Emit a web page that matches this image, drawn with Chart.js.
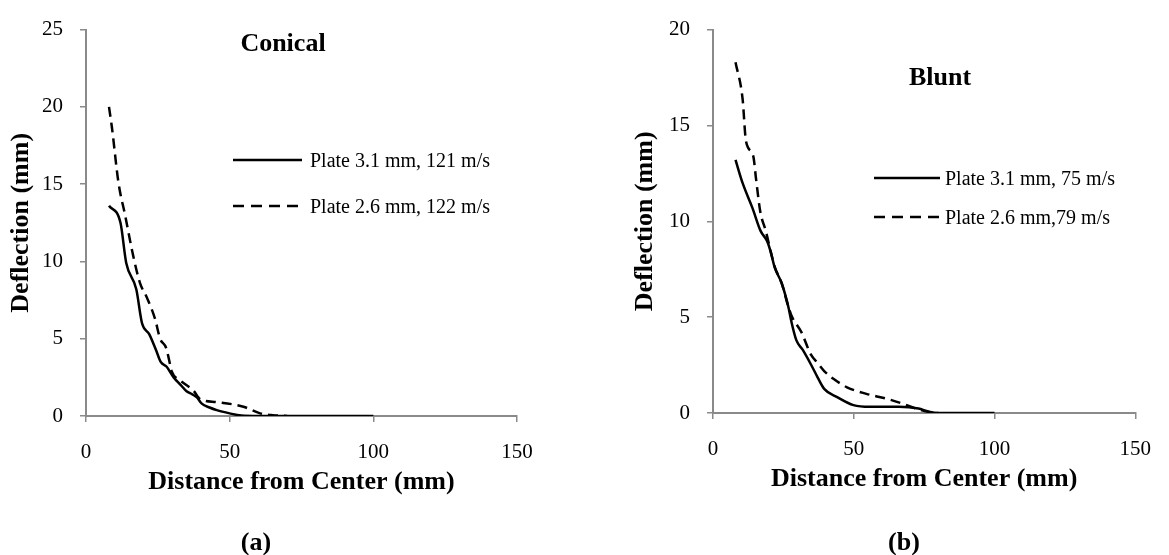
<!DOCTYPE html>
<html>
<head>
<meta charset="utf-8">
<script src="https://cdn.jsdelivr.net/npm/chart.js@4.4.1/dist/chart.umd.min.js"></script>
<style>
  body { margin: 0; background: #fff; }
  #page { position: relative; width: 1169px; height: 555px; overflow: hidden; font-family: 'Liberation Serif', 'Times New Roman', serif; color: #000; }
  canvas { position: absolute; top: 0; }
  .tag { position: absolute; font-weight: bold; font-size: 26px; transform: translate(-50%, -50%); white-space: nowrap; }
  .leg { position: absolute; height: 24px; display: flex; align-items: center; font-size: 20px; white-space: nowrap; transform: translateY(-50%); }
</style>
</head>
<body>
<div id="page">
  <canvas id="conicalChart" width="590" height="555" style="left:0"></canvas>
  <canvas id="bluntChart" width="579" height="555" style="left:590px"></canvas>
  <div class="tag" style="left:283px;top:43px">Conical</div>
  <div class="tag" style="left:940px;top:77px">Blunt</div>
  <div class="tag" style="left:256px;top:542px">(a)</div>
  <div class="tag" style="left:904px;top:542px">(b)</div>
</div>
<script>
// Datos (a) Conical
const conicalX31 = [8, 12, 14, 17.5, 19.5, 22, 24.5, 26, 28, 30.5, 33, 35, 37, 38.6, 40.3, 43, 45.5, 50, 54, 60, 70, 80, 90, 100];
const conicalY31 = [13.6, 12.5, 9.9, 8.2, 6.0, 5.3, 4.2, 3.5, 3.2, 2.5, 2.0, 1.6, 1.4, 1.2, 0.8, 0.55, 0.38, 0.17, 0.03, 0, 0, 0, 0, 0];
const conicalX26 = [8, 9, 11.3, 13.6, 16.5, 18.8, 21.1, 24, 25.8, 27.9, 29.3, 29.8, 32.8, 37.4, 39.7, 45.5, 54.8, 60.6, 65, 70];
const conicalY26 = [20, 18.7, 15.1, 13.0, 10.3, 8.6, 7.7, 6.3, 5.0, 4.4, 3.3, 2.9, 2.3, 1.64, 1.1, 0.9, 0.6, 0.17, 0.05, 0];

// Datos del gráfico (b) Blunt
const bluntX31 = [8, 10.5, 14, 16.9, 19.2, 20.4, 21.9, 24.4, 26.7, 27.9, 29.6, 31.9, 34.8, 37.2, 39.5, 44.1, 49.9, 55.7, 66, 73, 76.5, 80, 90, 100];
const bluntY31 = [13.2, 12.0, 10.7, 9.5, 8.97, 8.46, 7.6, 6.77, 5.58, 4.73, 3.8, 3.29, 2.53, 1.85, 1.26, 0.83, 0.41, 0.32, 0.32, 0.23, 0.08, 0, 0, 0];
const bluntX26 = [8, 10.5, 11.7, 14.3, 15.3, 16.8, 18.75, 20.7, 22, 24.4, 26.7, 27.9, 31.4, 34.8, 37.2, 39.5, 42.9, 47.6, 54.5, 61.5, 67.3, 73, 77.5, 80];
const bluntY26 = [18.3, 16.4, 14.2, 13.4, 12.2, 10.5, 9.5, 8.3, 7.6, 6.77, 5.58, 5.07, 4.22, 3.04, 2.6, 2.19, 1.77, 1.34, 1.0, 0.75, 0.49, 0.19, 0.03, 0];

// Ticks y etiquetas
const xTicks = [0, 50, 100, 150];
const conicalYTicks = [0, 5, 10, 15, 20, 25];
const bluntYTicks = [0, 5, 10, 15, 20];
const conicalLabels = ['Plate 3.1 mm, 121 m/s', 'Plate 2.6 mm, 122 m/s'];
const bluntLabels = ['Plate 3.1 mm, 75 m/s', 'Plate 2.6 mm,79 m/s'];

const serif = "'Liberation Serif', 'Times New Roman', serif";
const axisGrey = '#8a8a8a';
const dash = [10, 6];

function toPoints(xs, ys) {
    return xs.map((x, i) => ({ x: x, y: ys[i] }));
}

function buildDatasets(labels, x31, y31, x26, y26) {
    const base = { borderColor: '#000', borderWidth: 2.5, pointRadius: 0, cubicInterpolationMode: 'monotone', fill: false };
    return [
        Object.assign({ label: labels[0], data: toPoints(x31, y31) }, base),
        Object.assign({ label: labels[1], data: toPoints(x26, y26), borderDash: dash }, base)
    ];
}

// Crea un gráfico con el área de dibujo fijada en píxeles
function createChart(canvasId, datasets, yTicks, pad) {
    const ctx = document.getElementById(canvasId).getContext('2d');
    return new Chart(ctx, {
        type: 'line',
        data: { datasets: datasets },
        options: {
            responsive: false,
            animation: false,
            layout: { padding: { left: pad.left, right: pad.right, top: 20, bottom: pad.bottom } },
            plugins: { legend: { display: false }, tooltip: { enabled: false } },
            scales: {
                x: {
                    type: 'linear',
                    min: xTicks[0],
                    max: xTicks[xTicks.length - 1],
                    afterBuildTicks: s => { s.ticks = xTicks.map(v => ({ value: v })); },
                    afterFit: s => { s.height = 90; },
                    grid: { drawOnChartArea: false, tickLength: 6, color: axisGrey, lineWidth: 1.5 },
                    border: { color: axisGrey, width: 2 },
                    ticks: { color: '#000', padding: 18, maxRotation: 0, font: { family: serif, size: 21 } },
                    title: { display: true, text: 'Distance from Center (mm)', color: '#000', padding: { top: 0, bottom: 8 },
                             font: { family: serif, size: 26, weight: 'bold' } }
                },
                y: {
                    type: 'linear',
                    min: yTicks[0],
                    max: yTicks[yTicks.length - 1],
                    afterBuildTicks: s => { s.ticks = yTicks.map(v => ({ value: v })); },
                    afterFit: s => { s.width = 86; },
                    grid: { drawOnChartArea: false, tickLength: 6, color: axisGrey, lineWidth: 1.5 },
                    border: { color: axisGrey, width: 2 },
                    ticks: { color: '#000', padding: 17, font: { family: serif, size: 21 } },
                    title: { display: true, text: 'Deflection (mm)', color: '#000', padding: { top: pad.title, bottom: 0 },
                             font: { family: serif, size: 26, weight: 'bold' } }
                }
            }
        }
    });
}

// Leyenda dentro del área, hecha en HTML a partir de los datasets
function drawLegend(chart, left, tops, sampleWidth, gap) {
    const page = document.getElementById('page');
    chart.data.datasets.forEach((ds, i) => {
        const row = document.createElement('div');
        row.className = 'leg';
        row.style.left = left + 'px';
        row.style.top = tops[i] + 'px';
        const dashAttr = ds.borderDash ? ` stroke-dasharray="11 7"` : '';
        row.innerHTML = `<svg width="${sampleWidth}" height="6" style="margin-right:${gap}px"><line x1="0" y1="3" x2="${sampleWidth}" y2="3" stroke="#000" stroke-width="2.5"${dashAttr}/></svg><span>${ds.label}</span>`;
        page.appendChild(row);
    });
}

const conicalChart = createChart('conicalChart',
    buildDatasets(conicalLabels, conicalX31, conicalY31, conicalX26, conicalY26),
    conicalYTicks, { left: 0, right: 73, bottom: 49, title: 6 });

const bluntChart = createChart('bluntChart',
    buildDatasets(bluntLabels, bluntX31, bluntY31, bluntX26, bluntY26),
    bluntYTicks, { left: 37, right: 24, bottom: 52, title: 3 });

drawLegend(conicalChart, 233, [160, 206], 69, 8);
drawLegend(bluntChart, 874, [178, 217], 66, 5);
</script>
</body>
</html>
